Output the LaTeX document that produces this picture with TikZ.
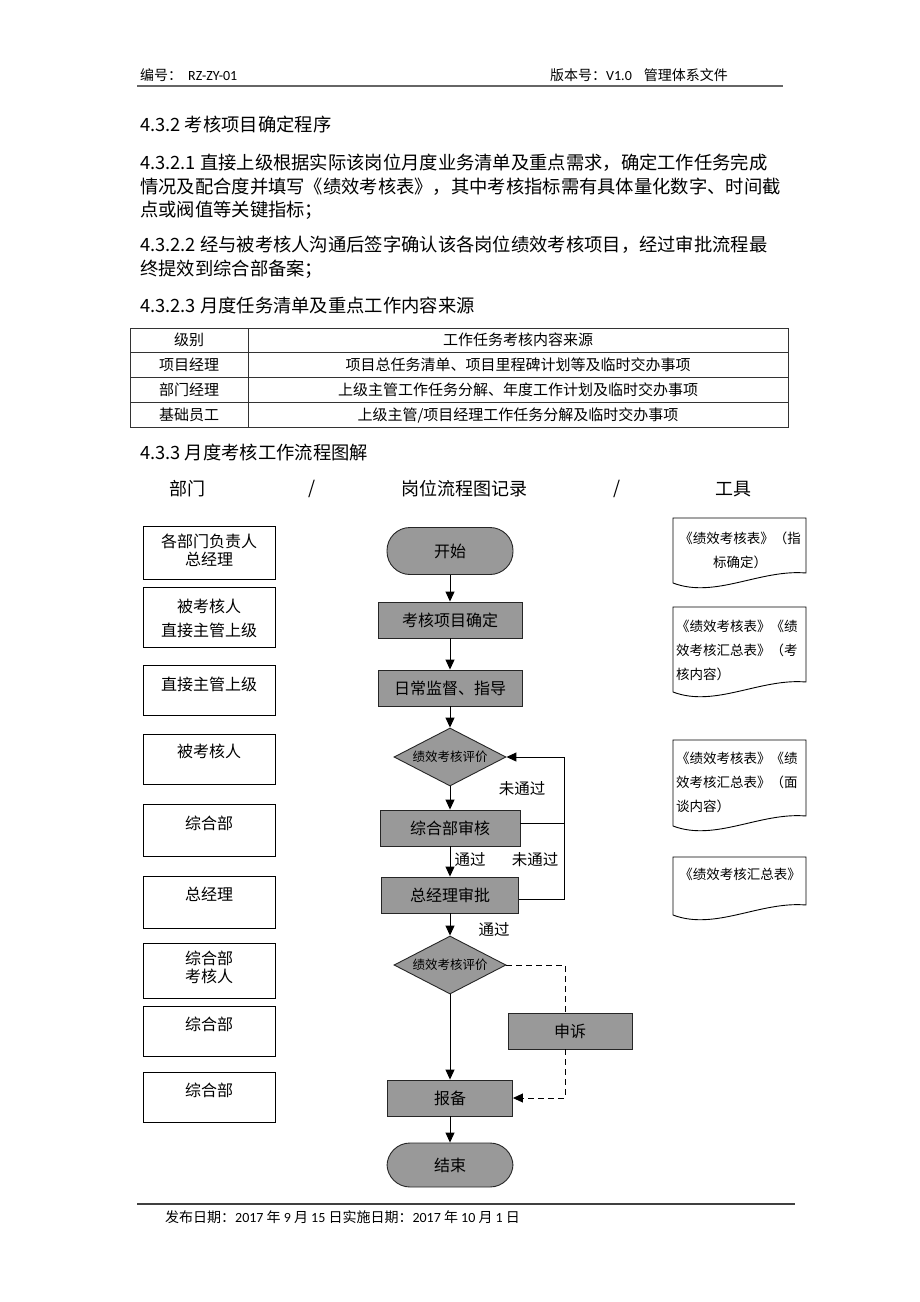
\documentclass[tikz,border=0pt]{standalone}
\usepackage{fontspec}
\setmainfont{Noto Sans CJK SC}
\newfontfamily\hdlat{Carlito}
\usetikzlibrary{shapes.geometric,arrows.meta}

\tikzset{
  hdtext/.style={anchor=west, inner sep=0, font=\fontsize{14}{14}\selectfont},
  bodytext/.style={anchor=west, inner sep=0, font=\fontsize{18.3}{20}\selectfont},
  celltext/.style={inner sep=0, font=\fontsize{15}{15}\selectfont},
  colhead/.style={inner sep=0, font=\fontsize{18}{18}\selectfont},
  deptbox/.style={draw, line width=0.9pt, minimum width=132, minimum height=50, inner sep=0},
  depttext/.style={inner sep=0, align=center, font=\fontsize{16}{18}\selectfont},
  flowbox/.style={draw=black!85, fill=black!40, line width=0.9pt, minimum width=144,
    minimum height=36, inner sep=0, font=\fontsize{16}{16}\selectfont},
  termbox/.style={flowbox, rounded corners=23, minimum width=126, minimum height=47},
  evaldiamond/.style={diamond, aspect=2, draw=black!85, fill=black!40, line width=0.9pt,
    minimum width=112, minimum height=58, inner sep=0, font=\fontsize{12.5}{12.5}\selectfont},
  flowarrow/.style={-{Triangle[length=10pt,width=9pt]}, line width=1pt},
  backline/.style={line width=0.9pt},
  dashline/.style={dash pattern=on 6pt off 4pt, line width=0.9pt},
  flowlabel/.style={inner sep=0, font=\fontsize{15.5}{15.5}\selectfont},
  tooltext/.style={inner sep=0, font=\fontsize{13.5}{24}\selectfont},
  docline/.style={line width=0.9pt}
}

% document shape of the tool column: top edge, bottom-left corner
\newcommand{\toolsheet}[2]{%
  \draw[docline] (673,#1) -- (806,#1) -- (806,{#2-10})
    .. controls (760,{#2-14}) and (715,{#2+16}) .. (673,#2) -- cycle;}

\begin{document}
\begin{tikzpicture}[x=1pt,y=-1pt]
  \useasboundingbox[fill=white] (0,0) rectangle (920,1302);

  % header and footer
  \node[hdtext] (hdno) at (140,75) {编号：\hspace{6pt}{\hdlat RZ-ZY-01}};
  \node[hdtext] (hdver) at (550,75) {版本号：{\hdlat V1.0}\hspace{12pt}管理体系文件};
  \draw[black!60, line width=2pt] (137,86) -- (783,86);
  \draw[black!75, line width=1.2pt] (137,1204) -- (795,1204);
  \node[hdtext] (ftdate) at (165,1217) {发布日期：{\hdlat 2017} 年 {\hdlat 9} 月 {\hdlat 15} 日实施日期：{\hdlat 2017} 年 {\hdlat 10} 月 {\hdlat 1} 日};

  % text
  \node[bodytext] (s432) at (140,125) {4.3.2 考核项目确定程序};
  \node[bodytext] (s4321a) at (140,163) {4.3.2.1 直接上级根据实际该岗位月度业务清单及重点需求，确定工作任务完成};
  \node[bodytext] (s4321b) at (140,187) {情况及配合度并填写《绩效考核表》，其中考核指标需有具体量化数字、时间截};
  \node[bodytext] (s4321c) at (140,210) {点或阀值等关键指标；};
  \node[bodytext] (s4322a) at (140,245) {4.3.2.2 经与被考核人沟通后签字确认该各岗位绩效考核项目，经过审批流程最};
  \node[bodytext] (s4322b) at (140,269) {终提效到综合部备案；};
  \node[bodytext] (s4323) at (140,305) {4.3.2.3 月度任务清单及重点工作内容来源};
  \node[bodytext] (s433) at (140,453) {4.3.3 月度考核工作流程图解};

  % table
  \draw[black!80, line width=0.9pt] (130,328) rectangle (788,427);
  \foreach \ry in {352,377,402}
    \draw[black!80, line width=0.9pt] (130,\ry) -- (788,\ry);
  \draw[black!80, line width=0.9pt] (248,328) -- (248,427);
  \node[celltext] (lvhead) at (189,340) {级别};
  \node[celltext] (srchead) at (518,340) {工作任务考核内容来源};
  \node[celltext] (lv1) at (189,365) {项目经理};
  \node[celltext] (src1) at (518,365) {项目总任务清单、项目里程碑计划等及临时交办事项};
  \node[celltext] (lv2) at (189,390) {部门经理};
  \node[celltext] (src2) at (518,390) {上级主管工作任务分解、年度工作计划及临时交办事项};
  \node[celltext] (lv3) at (189,415) {基础员工};
  \node[celltext] (src3) at (518,415) {上级主管/项目经理工作任务分解及临时交办事项};

  % column heads
  \node[colhead] (hdept) at (187,489) {部门};
  \node[colhead] (hsep1) at (312,489) {/};
  \node[colhead] (hflow) at (464,489) {岗位流程图记录};
  \node[colhead] (hsep2) at (617,489) {/};
  \node[colhead] (htool) at (733,489) {工具};

  % departments
  \node[deptbox, minimum height=53] (d1) at (209,552.5) {};
  \node[depttext] (d1t) at (209,550) {各部门负责人\\总经理};
  \node[deptbox, minimum height=60] (d2) at (209,617) {};
  \node[depttext] (d2t) at (209,618) {被考核人\\[6pt]直接主管上级};
  \node[deptbox] (d3) at (209,690) {};
  \node[depttext] (d3t) at (209,684) {直接主管上级};
  \node[deptbox] (d4) at (209,759) {};
  \node[depttext] (d4t) at (209,751) {被考核人};
  \node[deptbox, minimum height=52] (d5) at (209,830) {};
  \node[depttext] (d5t) at (209,823) {综合部};
  \node[deptbox, minimum height=52] (d6) at (209,902) {};
  \node[depttext] (d6t) at (209,894) {总经理};
  \node[deptbox, minimum height=55] (d7) at (209,970.5) {};
  \node[depttext] (d7t) at (209,967) {综合部\\考核人};
  \node[deptbox] (d8) at (209,1031) {};
  \node[depttext] (d8t) at (209,1024) {综合部};
  \node[deptbox] (d9) at (209,1097) {};
  \node[depttext] (d9t) at (209,1090) {综合部};

  % flow
  \node[termbox] (start) at (450,551) {开始};
  \node[flowbox] (item) at (450,620) {考核项目确定};
  \node[flowbox] (guide) at (450,688) {日常监督、指导};
  \node[evaldiamond] (eval1) at (450,757) {绩效考核评价};
  \node[flowbox, minimum width=140] (audit) at (450,828) {综合部审核};
  \node[flowbox, minimum width=137] (approve) at (450,895) {总经理审批};
  \node[evaldiamond] (eval2) at (450,965) {绩效考核评价};
  \node[flowbox, minimum width=124] (appeal) at (570,1031) {申诉};
  \node[flowbox, minimum width=125] (report) at (450,1098) {报备};
  \node[termbox, minimum height=44] (finish) at (450,1165) {结束};

  \draw[flowarrow] (start) -- (item);
  \draw[flowarrow] (item) -- (guide);
  \draw[flowarrow] (guide) -- (eval1);
  \draw[flowarrow] (eval1) -- (audit);
  \draw[flowarrow] (audit) -- (approve);
  \draw[flowarrow] (approve) -- (eval2);
  \draw[flowarrow] (eval2) -- (report);
  \draw[flowarrow] (report) -- (finish);
  \node[flowlabel] (pass1) at (470,860) {通过};
  \node[flowlabel] (pass2) at (494,930) {通过};

  % not passed, back to evaluation
  \coordinate (backtop) at (564,757);
  \draw[backline] ([yshift=5pt]audit.east) -- ([yshift=5pt]audit.east -| backtop);
  \draw[flowarrow] ([yshift=-4pt]approve.east) -- ([yshift=-4pt]approve.east -| backtop)
    -- (backtop) -- (eval1.east);
  \node[flowlabel] (fail1) at (522,789) {未通过};
  \node[flowlabel] (fail2) at (535,860) {未通过};

  % appeal
  \coordinate (appealturn) at (565,965);
  \draw[dashline] (eval2.east) -- (appealturn) -- (appealturn |- appeal.north);
  \draw[dashline, -{Triangle[length=10pt,width=9pt]}] (appealturn |- appeal.south)
    -- (appealturn |- report.east) -- (report.east);

  % tools
  \toolsheet{518}{583}
  \toolsheet{607}{692}
  \toolsheet{740}{826}
  \toolsheet{857}{915}
  \node[tooltext, align=center] (t1) at (740,550) {《绩效考核表》（指\\标确定）};
  \node[tooltext, align=left, anchor=west] (t2) at (676,650) {《绩效考核表》《绩\\效考核汇总表》（考\\核内容）};
  \node[tooltext, align=left, anchor=west] (t3) at (676,782) {《绩效考核表》《绩\\效考核汇总表》（面\\谈内容）};
  \node[tooltext] (t4) at (740,874) {《绩效考核汇总表》};
\end{tikzpicture}
\end{document}
